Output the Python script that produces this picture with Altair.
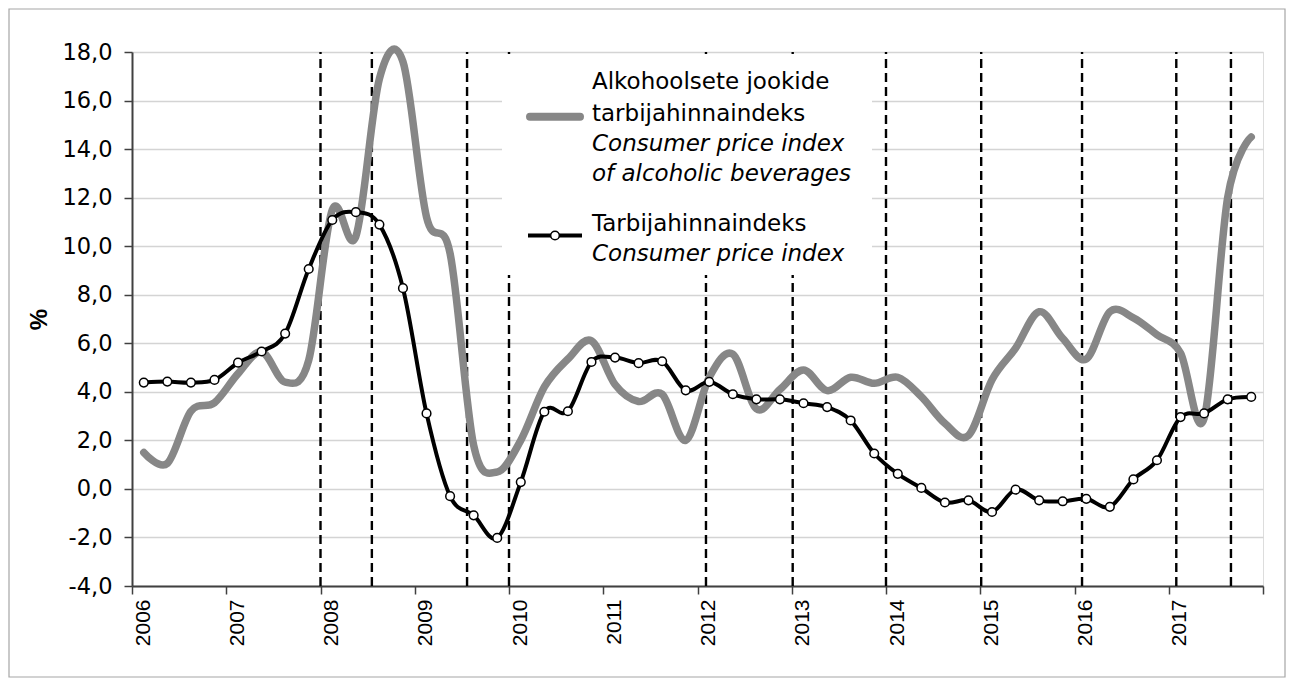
import altair as alt
import pandas as pd

# ---- data (quarterly, annual % change) ----
years = list(range(2006, 2018))
quarters = [1, 2, 3, 4]

cpi = [4.38, 4.42, 4.38, 4.49,
       5.20, 5.66, 6.40, 9.06,
       11.08, 11.40, 10.89, 8.27,
       3.11, -0.30, -1.09, -2.02,
       0.28, 3.18, 3.20, 5.23,
       5.41, 5.18, 5.26, 4.06,
       4.41, 3.90, 3.69, 3.69,
       3.53, 3.37, 2.82, 1.46,
       0.62, 0.04, -0.56, -0.47,
       -0.95, -0.03, -0.47, -0.51,
       -0.41, -0.74, 0.39, 1.18,
       2.96, 3.11, 3.69, 3.79]

alco = [1.50, 1.05, 3.20, 3.55,
        4.75, 5.65, 4.40, 5.30,
        11.50, 10.40, 16.90, 17.60,
        11.20, 9.70, 1.80, 0.70,
        2.00, 4.20, 5.35, 6.10,
        4.30, 3.60, 3.90, 2.00,
        4.60, 5.55, 3.30, 4.10,
        4.90, 4.05, 4.60, 4.35,
        4.60, 3.80, 2.70, 2.20,
        4.50, 5.80, 7.30, 6.20,
        5.35, 7.30, 7.05, 6.35,
        5.60, 2.90, 12.00, 14.50]

# dashed marker lines (time of change)
event_x = [2008.0, 2008.545, 2009.555, 2010.0, 2012.09, 2013.01,
           2014.0, 2015.01, 2016.08, 2017.08, 2017.66]

legend_alco = ["Alkohoolsete jookide", "tarbijahinnaindeks",
               "Consumer price index", "of alcoholic beverages"]
legend_cpi = ["Tarbijahinnaindeks", "Consumer price index"]

t = [y + (q - 0.5) / 4 for y in years for q in quarters]
df = pd.DataFrame({"t": t, "cpi": cpi, "alco": alco})
ev = pd.DataFrame({"x": event_x, "lo": [-4] * len(event_x), "hi": [18] * len(event_x)})
one = pd.DataFrame({"a": [0]})

# ---- scales / axes ----
xsc = alt.Scale(domain=[2006, 2018], nice=False, zero=False)
ysc = alt.Scale(domain=[-4, 18], nice=False, zero=False)

xaxis = alt.Axis(
    values=list(range(2006, 2019)), format="d",
    labelExpr="datum.value >= 2018 ? '' : datum.label",
    labelAngle=270, labelAlign="right", labelBaseline="middle",
    labelOffset=11, labelPadding=5, tickSize=8, grid=False, title=None,
    labelFont="Liberation Sans", labelFontSize=21, labelColor="#000000",
    domainColor="#404040", domainWidth=2, tickColor="#404040", tickWidth=1.5,
)
yaxis = alt.Axis(
    values=list(range(-4, 19, 2)),
    labelExpr="(datum.value < 0 ? '-' : '') + replace(format(abs(datum.value), '.1f'), '.', ',')",
    title="%", titleFont="Liberation Sans", titleFontSize=24, titleFontWeight="bold",
    titleColor="#000000", titleAngle=270, titleX=-93, titleY=267,
    titleAlign="center", titleBaseline="middle",
    grid=True, gridColor="#d4d4d4", gridWidth=1.5,
    tickSize=8, labelPadding=12, labelFont="DejaVu Sans", labelFontSize=22.5,
    labelColor="#000000", domainColor="#404040", domainWidth=2,
    tickColor="#404040", tickWidth=1.5,
)

X = alt.X("t:Q", scale=xsc, axis=xaxis)

rules = alt.Chart(ev).mark_rule(color="#000000", strokeWidth=2.4, strokeDash=[9, 5]).encode(
    x=alt.X("x:Q", scale=xsc, axis=xaxis),
    y=alt.Y("lo:Q", scale=ysc, axis=yaxis),
    y2="hi:Q",
)

gray = alt.Chart(df).mark_line(color="#878787", strokeWidth=7.5, interpolate="cardinal",
                               strokeCap="round", strokeJoin="round").encode(
    x=X, y=alt.Y("alco:Q", scale=ysc, axis=yaxis))

black = alt.Chart(df).mark_line(color="#000000", strokeWidth=4, interpolate="cardinal",
                                strokeJoin="round").encode(
    x=X, y=alt.Y("cpi:Q", scale=ysc, axis=yaxis))

pts = alt.Chart(df).mark_point(filled=True, fill="#ffffff", stroke="#000000",
                               strokeWidth=1.5, size=75, opacity=1).encode(
    x=X, y=alt.Y("cpi:Q", scale=ysc, axis=yaxis))

# ---- decorations: chart-area border and legend ----
border = alt.Chart(one).mark_rect(filled=False, stroke="#a6a6a6", strokeWidth=1.2).encode(
    x=alt.value(-123), x2=alt.value(1153), y=alt.value(-43), y2=alt.value(625))

legbox = alt.Chart(one).mark_rect(fill="#ffffff").encode(
    x=alt.value(370), x2=alt.value(740), y=alt.value(2), y2=alt.value(223))

leg_gray = alt.Chart(one).mark_rule(color="#878787", strokeWidth=8, strokeCap="round").encode(
    x=alt.value(398), x2=alt.value(448), y=alt.value(64.7))
leg_black = alt.Chart(one).mark_rule(color="#000000", strokeWidth=4).encode(
    x=alt.value(396), x2=alt.value(450), y=alt.value(183.5))
leg_pt = alt.Chart(one).mark_point(filled=True, fill="#ffffff", stroke="#000000",
                                   strokeWidth=1.5, size=75, opacity=1).encode(
    x=alt.value(423), y=alt.value(183.5))

texts = []
alco_base = [37, 69, 99, 129]
cpi_base = [179, 209]
for i, (s, yb) in enumerate(zip(legend_alco, alco_base)):
    texts.append(alt.Chart(one).mark_text(
        align="left", baseline="alphabetic", font="DejaVu Sans", fontSize=23,
        fontStyle="italic" if i >= 2 else "normal", color="#000000", text=s
    ).encode(x=alt.value(460), y=alt.value(yb)))
for i, (s, yb) in enumerate(zip(legend_cpi, cpi_base)):
    texts.append(alt.Chart(one).mark_text(
        align="left", baseline="alphabetic", font="DejaVu Sans", fontSize=23,
        fontStyle="italic" if i >= 1 else "normal", color="#000000", text=s
    ).encode(x=alt.value(460), y=alt.value(yb)))

chart = alt.layer(
    rules, border, legbox, gray, black, pts, leg_gray, leg_black, leg_pt, *texts
).properties(
    width=1131, height=534,
    padding={"left": 124, "top": 44, "right": 23, "bottom": 92},
    autosize=alt.AutoSizeParams(type="none"),
).configure_view(
    stroke="#8c8c8c", strokeWidth=1.5
).configure(background="#ffffff")

chart.save("out.html", embed_options={"renderer": "svg", "actions": False})
